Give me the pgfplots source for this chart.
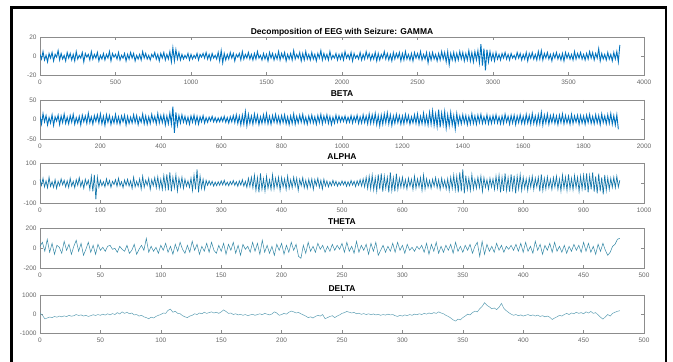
\documentclass[border=0pt]{standalone}
\usepackage{fontspec}
\setmainfont{Liberation Sans}
\usepackage{pgfplots}
\pgfplotsset{compat=1.18}
\definecolor{mblue}{RGB}{0,114,189}
\definecolor{malpha}{RGB}{20,118,170}
\definecolor{mtheta}{RGB}{50,135,165}
\definecolor{mdelta}{RGB}{95,160,180}
\pgfplotsset{
  eeg/.style={
    scale only axis, width=604bp, anchor=north west,
    enlargelimits=false, scaled ticks=false,
    axis line style={black!45, line width=0.5bp},
    tick align=inside, major tick length=3bp,
    tick style={black!45, line width=0.5bp},
    ticklabel style={font=\fontsize{6.5}{7}\selectfont, text=black!60},
    /pgf/number format/assume math mode=true,
    /pgf/number format/1000 sep={},
    xticklabel style={yshift=-1.5bp},
    every axis title/.style={font=\fontsize{8.5}{9}\selectfont\bfseries, at={(0.5,1)}, anchor=base, yshift=3.3bp},
    every axis plot/.append style={mark=none},
  }
}
\begin{document}
\begin{tikzpicture}
\path[use as bounding box] (0,0) rectangle (673bp,362bp);
\draw[line width=2.4bp, black] (11.3bp,0) -- (11.3bp,354.5bp) -- (666bp,354.5bp) -- (666bp,0);

% GAMMA
\begin{axis}[eeg, at={(40bp,324.5bp)}, height=37.5bp,
  xmin=0, xmax=4000, ymin=-20, ymax=20,
  xtick={0,500,...,4000}, ytick={-20,0,20},
  title={Decomposition of EEG with Seizure: GAMMA}]
\addplot[mblue, line width=0.9bp] table[row sep=\\, header=false, x expr=\coordindex*10, y index=0]{
2\\-3\\5\\-4\\1\\-6\\3\\-2\\4\\-5\\2\\-1\\6\\-4\\3\\-3\\1\\-5\\4\\-2\\
3\\-4\\2\\-5\\5\\-3\\1\\-2\\4\\-6\\3\\-1\\2\\-4\\5\\-3\\2\\-2\\4\\-5\\
1\\-3\\3\\-4\\2\\-2\\5\\-5\\3\\-1\\2\\-3\\4\\-4\\1\\-2\\3\\-5\\2\\-3\\
4\\-2\\3\\-5\\1\\-3\\2\\-4\\5\\-2\\3\\-3\\1\\-4\\2\\-1\\4\\-3\\2\\-5\\
3\\-2\\4\\-4\\2\\-3\\5\\-6\\9\\-5\\7\\-3\\4\\-4\\2\\-3\\1\\-2\\3\\-4\\
2\\-3\\1\\-2\\3\\-4\\2\\-1\\3\\-2\\4\\-3\\2\\-4\\3\\-2\\1\\-3\\4\\-5\\
6\\-7\\3\\-4\\2\\-3\\4\\-2\\3\\-5\\2\\-1\\3\\-4\\5\\-3\\2\\-2\\4\\-3\\
2\\-4\\3\\-3\\5\\-2\\1\\-4\\3\\-3\\2\\-5\\4\\-2\\3\\-4\\2\\-3\\5\\-4\\
3\\-2\\4\\-5\\2\\-3\\3\\-4\\6\\-3\\2\\-2\\4\\-5\\3\\-4\\5\\-3\\2\\-4\\
4\\-3\\2\\-5\\3\\-2\\6\\-4\\3\\-3\\2\\-4\\5\\-3\\1\\-2\\3\\-4\\2\\-3\\
3\\-4\\5\\-2\\2\\-3\\4\\-5\\3\\-2\\1\\-3\\4\\-4\\2\\-3\\5\\-2\\3\\-4\\
2\\-3\\4\\-5\\3\\-4\\2\\-2\\5\\-3\\3\\-4\\2\\-5\\4\\-3\\3\\-2\\4\\-5\\
3\\-4\\5\\-3\\2\\-4\\3\\-5\\4\\-2\\3\\-3\\5\\-4\\2\\-3\\4\\-7\\3\\-4\\
4\\-3\\2\\-5\\3\\-4\\5\\-3\\4\\-6\\5\\-9\\3\\-4\\4\\-5\\3\\-4\\5\\-3\\
4\\-5\\3\\-4\\6\\-5\\4\\-6\\5\\-4\\6\\-7\\13\\-10\\8\\-15\\7\\-6\\5\\-4\\
3\\-5\\4\\-3\\2\\-4\\3\\-2\\4\\-3\\2\\-4\\3\\-2\\1\\-3\\4\\-2\\3\\-4\\
2\\-3\\4\\-5\\3\\-2\\4\\-3\\2\\-4\\5\\-3\\6\\-4\\3\\-2\\4\\-3\\2\\-5\\
3\\-2\\4\\-3\\2\\-4\\3\\-5\\4\\-2\\3\\-3\\2\\-4\\5\\-3\\3\\-2\\4\\-3\\
2\\-4\\3\\-3\\5\\-2\\4\\-4\\3\\-2\\8\\-5\\3\\-3\\2\\-4\\4\\-3\\2\\-5\\
4\\-3\\5\\-6\\12\\
};
\end{axis}

% BETA
\begin{axis}[eeg, at={(40bp,262bp)}, height=39bp,
  xmin=0, xmax=2000, ymin=-50, ymax=50,
  xtick={0,200,...,2000}, ytick={-50,0,50},
  title={BETA}]
\addplot[mblue, line width=0.9bp] table[row sep=\\, header=false, x expr=\coordindex*5, y index=0]{
8\\-12\\15\\-6\\10\\-14\\5\\-9\\12\\-15\\7\\-4\\11\\-13\\9\\-8\\14\\-10\\6\\-11\\
10\\-7\\13\\-12\\5\\-9\\8\\-14\\11\\-6\\9\\-10\\16\\-8\\7\\-12\\10\\-5\\12\\-9\\
14\\-11\\8\\-15\\12\\-7\\10\\-13\\6\\-9\\13\\-10\\7\\-12\\9\\-6\\11\\-14\\8\\-10\\
6\\-9\\12\\-8\\10\\-13\\5\\-7\\14\\-11\\9\\-12\\7\\-10\\13\\-6\\8\\-11\\15\\-9\\
10\\-8\\12\\-14\\9\\-11\\16\\-12\\33\\-34\\18\\-15\\10\\-9\\12\\-7\\8\\-10\\6\\-12\\
9\\-7\\11\\-10\\8\\-12\\7\\-6\\10\\-9\\5\\-7\\6\\-4\\8\\-6\\5\\-7\\4\\-6\\
6\\-5\\8\\-7\\5\\-9\\7\\-6\\10\\-8\\12\\-10\\9\\-14\\11\\-12\\20\\-16\\13\\-10\\
9\\-12\\14\\-8\\11\\-13\\7\\-10\\12\\-9\\15\\-11\\8\\-12\\10\\-7\\13\\-9\\8\\-11\\
10\\-8\\12\\-11\\7\\-13\\9\\-10\\14\\-12\\8\\-9\\11\\-7\\13\\-10\\6\\-12\\9\\-8\\
11\\-9\\7\\-12\\10\\-8\\13\\-11\\9\\-7\\12\\-10\\8\\-13\\6\\-9\\11\\-7\\9\\-6\\
7\\-5\\9\\-8\\6\\-7\\10\\-9\\8\\-6\\11\\-10\\7\\-9\\12\\-8\\9\\-11\\14\\-10\\
12\\-9\\15\\-13\\10\\-16\\11\\-12\\14\\-9\\17\\-11\\12\\-15\\9\\-10\\13\\-8\\10\\-12\\
9\\-11\\13\\-8\\10\\-12\\7\\-9\\12\\-10\\14\\-13\\8\\-11\\16\\-12\\10\\-14\\18\\-12\\
22\\-15\\14\\-18\\25\\-20\\16\\-13\\20\\-22\\12\\-16\\18\\-14\\10\\-24\\15\\-12\\9\\-11\\
12\\-9\\10\\-13\\8\\-11\\14\\-10\\9\\-12\\11\\-8\\13\\-10\\7\\-9\\12\\-11\\8\\-10\\
10\\-8\\12\\-9\\7\\-11\\9\\-10\\13\\-7\\8\\-12\\10\\-9\\11\\-13\\9\\-8\\12\\-10\\
8\\-11\\13\\-9\\10\\-12\\15\\-10\\9\\-13\\12\\-11\\18\\-14\\11\\-9\\14\\-12\\10\\-8\\
12\\-10\\9\\-13\\11\\-8\\14\\-11\\10\\-9\\8\\-12\\13\\-10\\9\\-7\\11\\-12\\10\\-9\\
9\\-12\\11\\-8\\13\\-10\\8\\-11\\12\\-9\\10\\-13\\14\\-8\\9\\-11\\12\\-10\\15\\-12\\
10\\-14\\12\\-25\\
};
\end{axis}

% ALPHA
\begin{axis}[eeg, at={(40bp,198.7bp)}, height=40bp,
  xmin=0, xmax=1000, ymin=-100, ymax=100,
  xtick={0,100,...,1000}, ytick={-100,0,100},
  title={ALPHA}]
\addplot[malpha, line width=0.7bp] table[row sep=\\, header=false, x expr=\coordindex*2.5, y index=0]{
20\\-10\\25\\-18\\12\\-22\\30\\-15\\8\\-20\\18\\-25\\10\\-12\\22\\-8\\15\\-18\\12\\-20\\
25\\-14\\10\\-22\\18\\-10\\28\\-16\\12\\-25\\20\\-8\\15\\-30\\35\\-40\\42\\-80\\30\\-20\\
15\\-12\\8\\-18\\22\\-10\\14\\-20\\10\\-6\\18\\-15\\25\\-12\\8\\-22\\16\\-10\\20\\-14\\
12\\-25\\30\\-18\\10\\-15\\22\\-28\\35\\-20\\15\\-10\\25\\-30\\18\\-12\\28\\-22\\32\\-25\\
20\\-30\\38\\-26\\45\\-35\\55\\-40\\30\\-22\\42\\-38\\25\\-18\\30\\-25\\20\\-15\\12\\-20\\
25\\-35\\40\\-30\\70\\-45\\35\\-25\\20\\-30\\15\\-10\\12\\-8\\10\\-14\\6\\-12\\8\\-10\\
12\\-8\\15\\-10\\6\\-12\\9\\-7\\14\\-10\\8\\-15\\12\\-9\\18\\-14\\10\\-20\\25\\-16\\
30\\-22\\40\\-35\\28\\-45\\50\\-30\\22\\-38\\35\\-25\\18\\-30\\42\\-28\\25\\-20\\30\\-35\\
28\\-18\\22\\-30\\35\\-25\\18\\-22\\30\\-15\\25\\-35\\20\\-12\\28\\-22\\15\\-25\\20\\-18\\
22\\-30\\18\\-12\\25\\-20\\15\\-28\\20\\-14\\12\\-18\\8\\-12\\15\\-10\\10\\-14\\6\\-10\\
12\\-8\\10\\-15\\8\\-12\\14\\-9\\10\\-16\\12\\-10\\18\\-14\\22\\-18\\30\\-25\\35\\-28\\
40\\-32\\28\\-38\\45\\-30\\50\\-42\\35\\-25\\30\\-45\\55\\-35\\28\\-40\\48\\-30\\25\\-20\\
30\\-22\\18\\-28\\25\\-15\\20\\-30\\35\\-25\\22\\-18\\28\\-35\\40\\-28\\22\\-20\\15\\-25\\
20\\-15\\28\\-22\\18\\-30\\25\\-20\\15\\-28\\22\\-35\\30\\-25\\40\\-32\\35\\-45\\55\\-40\\
70\\-50\\38\\-30\\25\\-35\\42\\-28\\20\\-25\\30\\-22\\35\\-40\\28\\-20\\18\\-30\\25\\-18\\
22\\-30\\35\\-25\\40\\-45\\30\\-38\\50\\-35\\28\\-42\\45\\-30\\38\\-50\\35\\-28\\42\\-35\\
30\\-25\\22\\-35\\28\\-20\\35\\-30\\25\\-18\\30\\-40\\45\\-35\\25\\-28\\32\\-22\\20\\-30\\
28\\-20\\35\\-30\\22\\-38\\40\\-25\\30\\-35\\45\\-28\\25\\-32\\38\\-22\\30\\-40\\35\\-28\\
40\\-35\\50\\-45\\38\\-30\\55\\-42\\35\\-50\\48\\-40\\30\\-55\\42\\-35\\28\\-30\\25\\-20\\
30\\-22\\35\\-18\\15\\
};
\end{axis}

% THETA
\begin{axis}[eeg, at={(40bp,133.7bp)}, height=40bp,
  xmin=0, xmax=500, ymin=-200, ymax=200,
  xtick={0,50,...,500}, ytick={-200,0,200},
  title={THETA}]
\addplot[mtheta, line width=0.5bp] table[row sep=\\, header=false, x expr=\coordindex*2, y index=0]{
20\\60\\-30\\90\\-40\\50\\-60\\30\\10\\-50\\70\\-20\\40\\-60\\20\\80\\-30\\50\\-70\\-10\\60\\-40\\30\\-60\\40\\
-20\\10\\-30\\20\\30\\-10\\0\\-40\\20\\-10\\-30\\30\\-50\\-20\\40\\-60\\-10\\30\\-20\\100\\-40\\20\\-30\\10\\-50\\
30\\-20\\50\\-40\\20\\-60\\40\\-30\\60\\-10\\-50\\30\\-40\\70\\-20\\40\\-60\\20\\-30\\50\\-40\\60\\-20\\-50\\30\\
-30\\50\\-60\\40\\-20\\60\\-50\\30\\-70\\40\\-10\\20\\-40\\60\\-30\\50\\-60\\80\\-40\\30\\-50\\20\\-70\\40\\-20\\
50\\-60\\30\\-40\\60\\-20\\40\\-80\\-100\\30\\-50\\60\\-30\\20\\-40\\50\\-10\\30\\-40\\20\\-30\\40\\-20\\30\\-10\\
50\\-40\\60\\-30\\20\\-50\\70\\-40\\30\\-20\\40\\-60\\50\\-30\\60\\-70\\-20\\30\\-40\\20\\-30\\50\\-40\\60\\-20\\
30\\-50\\40\\-20\\10\\-30\\20\\-10\\30\\-40\\50\\-60\\40\\-30\\60\\-50\\20\\-40\\30\\-20\\40\\-50\\60\\-30\\20\\
-40\\30\\-20\\40\\-50\\20\\60\\-80\\70\\-60\\40\\-30\\20\\-40\\50\\-20\\30\\-40\\20\\-10\\30\\-20\\40\\-30\\50\\
-40\\60\\-30\\20\\-50\\70\\-20\\40\\-60\\30\\-20\\50\\-40\\60\\-30\\20\\-40\\30\\-50\\20\\-30\\40\\-20\\30\\-40\\
60\\-30\\50\\-40\\20\\-60\\40\\-30\\50\\-20\\-70\\-40\\20\\40\\90\\100\\
};
\end{axis}

% DELTA
\begin{axis}[eeg, at={(40bp,67bp)}, height=38.3bp,
  xmin=0, xmax=500, ymin=-1000, ymax=1000,
  xtick={0,50,...,500}, ytick={-1000,0,1000},
  title={DELTA}]
\addplot[mdelta, line width=0.5bp] table[row sep=\\, header=false, x expr=\coordindex*2, y index=0]{
50\\-50\\-250\\-200\\-150\\-180\\-120\\-160\\-100\\-140\\-90\\-130\\-60\\-110\\-80\\-20\\-70\\-40\\-100\\-60\\-120\\-80\\-30\\-70\\-20\\
-60\\0\\-50\\20\\-40\\30\\-20\\80\\10\\120\\40\\100\\20\\60\\-40\\-20\\-100\\-60\\-140\\-180\\-240\\-160\\-200\\-120\\-60\\
-20\\60\\40\\200\\260\\100\\150\\40\\20\\-80\\-140\\-180\\-100\\-60\\20\\-20\\60\\20\\100\\40\\80\\120\\60\\100\\40\\
120\\220\\140\\40\\60\\-20\\20\\-40\\-10\\-60\\-20\\-80\\-40\\-10\\-60\\-20\\20\\-30\\40\\0\\-40\\10\\120\\60\\-60\\
-20\\40\\0\\100\\160\\120\\60\\90\\20\\-40\\-100\\-180\\-140\\-200\\-120\\-60\\-100\\-20\\-240\\-180\\-120\\-80\\-180\\-100\\-40\\
40\\80\\140\\100\\60\\90\\20\\50\\-10\\30\\-20\\20\\-30\\10\\-40\\-10\\-60\\-20\\-50\\0\\-40\\-20\\-80\\-120\\-60\\
-100\\-40\\-80\\-20\\-60\\0\\-30\\20\\-20\\40\\0\\60\\20\\80\\40\\120\\60\\20\\-60\\-120\\-200\\-300\\-360\\-260\\-300\\
-180\\-100\\0\\-40\\80\\160\\120\\280\\400\\600\\460\\380\\280\\320\\240\\360\\560\\300\\180\\80\\0\\-60\\-20\\-80\\-40\\
-100\\-60\\-20\\-80\\-40\\-100\\-50\\-120\\-80\\-140\\-100\\-160\\-280\\-200\\-140\\-60\\-100\\-20\\40\\-20\\60\\20\\100\\40\\80\\
20\\120\\60\\140\\40\\80\\-40\\-160\\-260\\-140\\-20\\-100\\40\\100\\150\\180\\
};
\end{axis}
\end{tikzpicture}
\end{document}
